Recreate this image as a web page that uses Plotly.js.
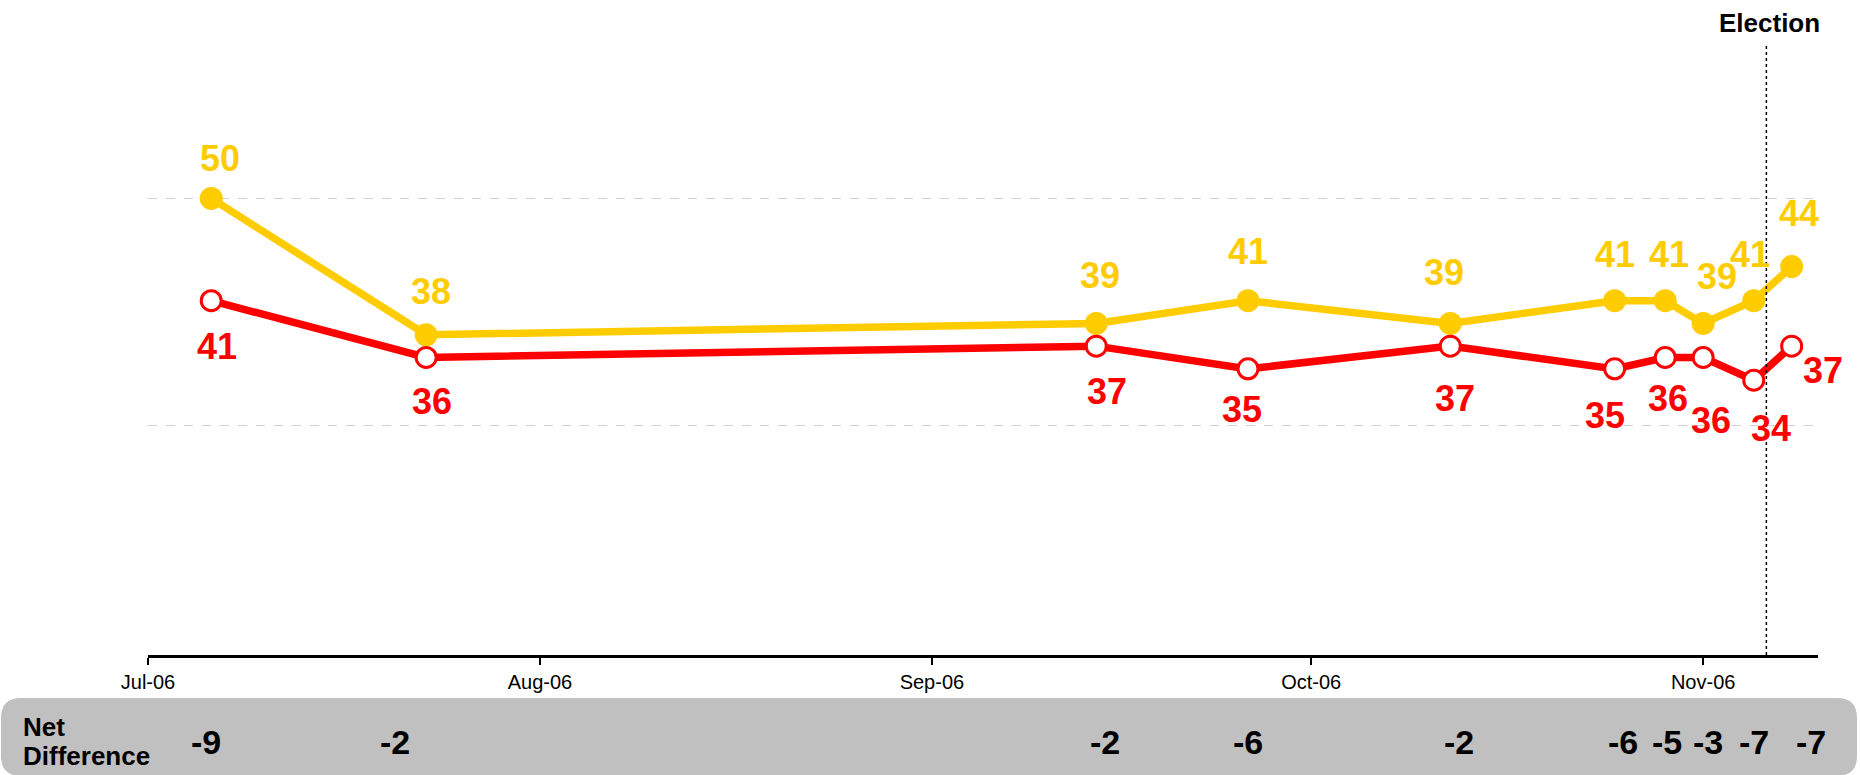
<!DOCTYPE html>
<html><head><meta charset="utf-8">
<script src="https://cdn.plot.ly/plotly-3.0.1.min.js"></script>
<style>html,body{margin:0;padding:0;background:#fff;}#chart{width:1860px;height:775px;}</style>
</head><body><div id="chart"></div>
<script>
// ---- data ----
const pollDates = ['2006-07-06','2006-07-23','2006-09-14','2006-09-26','2006-10-12','2006-10-25','2006-10-29','2006-11-01','2006-11-05','2006-11-08'];
const yellowValues = [50,38,39,41,39,41,41,39,41,44];
const redValues = [41,36,37,35,37,35,36,36,34,37];
const netDifference = [-9,-2,-2,-6,-2,-6,-5,-3,-7,-7];
const electionDate = '2006-11-06';
const electionLabel = 'Election';
const netLabel = ['Net', 'Difference'];
const xRange = ['2006-07-01', '2006-11-10 02:00'];
const yRange = [9.81, 67.47];
const gridValues = [30, 50];

// ---- label placement (pixels) ----
const yellowShift = [[9,40],[5,43],[4,48],[0,49],[-6,51],[0,46],[4,46],[14,47],[-4,46],[7,53]];
const redShift = [[6,-46],[6,-44],[11,-45],[-6,-41],[5,-52],[-10,-47],[3,-41],[8,-63],[17,-48],[31,-24]];
const netShift = [-5,-31,9,0,9,8,2,5,0,19];

const W = 1860, H = 775, ML = 148, MR = 42, MT = 0, MB = 120;
const PW = W - ML - MR, PH = H - MT - MB;
const px = x => (x - ML) / PW;
const py = y => (H - MB - y) / PH;

const YEL = '#FFCC00', RED = '#FF0000';
const boldFont = 'Liberation Sans, Arial, sans-serif';
const narrowFont = 'Liberation Sans Narrow, Arial Narrow, Liberation Sans, Arial, sans-serif';

const traces = [
  {x: pollDates, y: yellowValues, type: 'scatter', mode: 'lines+markers',
   line: {color: YEL, width: 7.5}, marker: {color: YEL, size: 23}, hoverinfo: 'skip'},
  {x: pollDates, y: redValues, type: 'scatter', mode: 'lines+markers',
   line: {color: RED, width: 7.5}, marker: {color: '#fff', size: 20, line: {color: RED, width: 3}}, hoverinfo: 'skip'}
];

const annotations = [];
pollDates.forEach((d, i) => {
  annotations.push({x: d, y: yellowValues[i], xref: 'x', yref: 'y', text: String(yellowValues[i]), showarrow: false,
    xshift: yellowShift[i][0], yshift: yellowShift[i][1], font: {family: boldFont, size: 36, color: YEL, weight: 'bold'}});
  annotations.push({x: d, y: redValues[i], xref: 'x', yref: 'y', text: String(redValues[i]), showarrow: false,
    xshift: redShift[i][0], yshift: redShift[i][1], font: {family: boldFont, size: 36, color: RED, weight: 'bold'}});
  annotations.push({x: d, y: py(742), xref: 'x', yref: 'paper', text: String(netDifference[i]), showarrow: false,
    xshift: netShift[i], yanchor: 'middle', font: {family: narrowFont, size: 34, color: '#000', weight: 'bold'}});
});
annotations.push({x: px(21), y: py(727), xref: 'paper', yref: 'paper', xanchor: 'left', yanchor: 'middle', text: netLabel[0],
  showarrow: false, font: {family: narrowFont, size: 26, color: '#000', weight: 'bold'}});
annotations.push({x: px(21), y: py(756), xref: 'paper', yref: 'paper', xanchor: 'left', yanchor: 'middle', text: netLabel[1],
  showarrow: false, font: {family: narrowFont, size: 26, color: '#000', weight: 'bold'}});
annotations.push({x: electionDate, y: py(23), xref: 'x', yref: 'paper', xshift: 3, yanchor: 'middle', text: electionLabel,
  showarrow: false, font: {family: boldFont, size: 26, color: '#000', weight: 'bold'}});

// rounded grey band
function roundedRect(x0, y0, x1, y1, r) {
  const P = (x, y) => px(x) + ',' + py(y);
  return 'M ' + P(x0 + r, y0) + ' L ' + P(x1 - r, y0) + ' Q ' + P(x1, y0) + ' ' + P(x1, y0 + r) +
    ' L ' + P(x1, y1 - r) + ' Q ' + P(x1, y1) + ' ' + P(x1 - r, y1) +
    ' L ' + P(x0 + r, y1) + ' Q ' + P(x0, y1) + ' ' + P(x0, y1 - r) +
    ' L ' + P(x0, y0 + r) + ' Q ' + P(x0, y0) + ' ' + P(x0 + r, y0) + ' Z';
}

const shapes = [
  {type: 'path', xref: 'paper', yref: 'paper', path: roundedRect(1, 698, 1857, 776, 20),
   fillcolor: '#C0C0C0', line: {width: 0}, layer: 'below'},
  {type: 'line', xref: 'x', yref: 'paper', x0: electionDate, x1: electionDate, y0: 0, y1: py(45),
   line: {color: '#000', width: 1.5, dash: 'dot'}, layer: 'above'}
];

const layout = {
  width: W, height: H, margin: {l: ML, r: MR, t: MT, b: MB, pad: 0},
  paper_bgcolor: '#fff', plot_bgcolor: 'rgba(0,0,0,0)', showlegend: false,
  xaxis: {type: 'date', range: xRange, tick0: '2006-07-01', dtick: 'M1', tickformat: '%b-%y',
    ticks: 'outside', ticklen: 7, tickwidth: 2, tickcolor: '#000', showline: true, linecolor: '#000', linewidth: 3,
    showgrid: false, zeroline: false, tickfont: {family: boldFont, size: 20, color: '#000'}, fixedrange: true},
  yaxis: {range: yRange, tickvals: gridValues, showticklabels: false, ticks: '', showgrid: true,
    gridcolor: '#D0D0D0', griddash: 'dash', gridwidth: 1.5, zeroline: false, showline: false, fixedrange: true},
  shapes: shapes, annotations: annotations
};

Plotly.newPlot('chart', traces, layout, {displayModeBar: false, staticPlot: true});
</script></body></html>
